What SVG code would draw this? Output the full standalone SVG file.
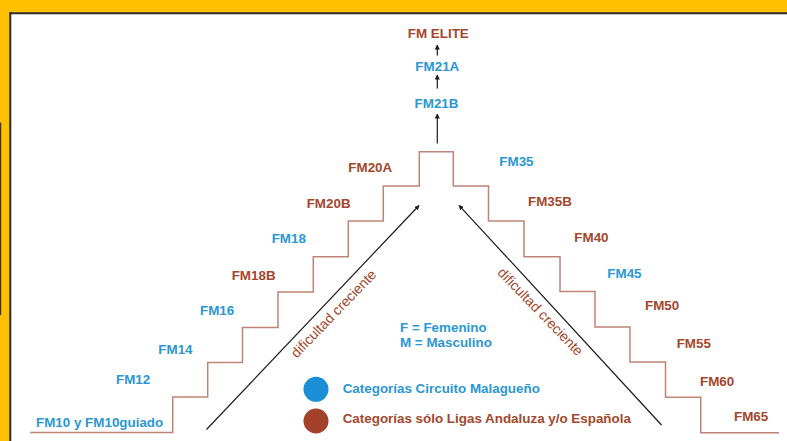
<svg xmlns="http://www.w3.org/2000/svg" width="787" height="441" viewBox="0 0 787 441">
  <style>
    .lbl { font-family: "Liberation Sans", Arial, sans-serif; font-weight: bold; font-size: 13.4px; }
    .blue { fill: #2B97D3; }
    .brown { fill: #A4472D; }
    .mid { text-anchor: middle; }
    .diag { font-family: "Liberation Sans", Arial, sans-serif; font-size: 14px; fill: #A4472D; text-anchor: middle; }
    .arr { stroke: #1a1a1a; stroke-width: 1.2; fill: none; marker-end: url(#ah); }
    .stairs { stroke: #BE8476; stroke-width: 1.5; fill: none; }
  </style>
  <defs>
    <marker id="ah" viewBox="0 0 10 10" refX="9" refY="5" markerWidth="5" markerHeight="5" orient="auto" markerUnits="userSpaceOnUse">
      <path d="M0,0 L10,5 L0,10 z" fill="#1a1a1a"/>
    </marker>
  </defs>

  <!-- frame -->
  <rect x="0" y="0" width="787" height="441" fill="#FFC000"/>
  <rect x="11" y="14" width="776" height="427" fill="#FFFFFF"/>
  <line x1="10" y1="13.2" x2="787" y2="13.2" stroke="#2b2b2b" stroke-width="2"/>
  <line x1="10.3" y1="12" x2="10.3" y2="441" stroke="#2b2b2b" stroke-width="2"/>
  <rect x="0" y="122.5" width="1.2" height="192.5" fill="#3a3520"/>

  <g id="connectors">
    <path class="stairs" d="M30,432.5 H172.7 V397 H207.7 V362.5 H242.5 V327.5 H278 V292 H313.3 V256.7 H348.3 V221 H383.3 V186 H419.3 V151.7 H453.3 V186 H488.5 V221 H524 V256.7 H560 V291.5 H595 V327 H630 V362 H665.5 V397.3 H700.7 V432.7 H779"/>
    <line class="arr" x1="437.3" y1="55.5" x2="437.3" y2="45"/>
    <line class="arr" x1="437.3" y1="88.5" x2="437.3" y2="75"/>
    <line class="arr" x1="437.3" y1="143.5" x2="437.3" y2="114"/>
    <line class="arr" x1="206.5" y1="429.5" x2="419" y2="205.5"/>
    <line class="arr" x1="661.5" y1="425" x2="459" y2="205.3"/>
  </g>

  <g id="n-fmelite"><text class="lbl brown mid" x="438.3" y="38.3">FM ELITE</text></g>
  <g id="n-fm21a"><text class="lbl blue mid" x="437.3" y="71">FM21A</text></g>
  <g id="n-fm21b"><text class="lbl blue mid" x="436.5" y="108.3">FM21B</text></g>

  <g id="n-fm20a"><text class="lbl brown" x="348.3" y="172.3">FM20A</text></g>
  <g id="n-fm20b"><text class="lbl brown" x="306.7" y="208.3">FM20B</text></g>
  <g id="n-fm18"><text class="lbl blue" x="271.7" y="243.3">FM18</text></g>
  <g id="n-fm18b"><text class="lbl brown" x="231.7" y="280">FM18B</text></g>
  <g id="n-fm16"><text class="lbl blue" x="200" y="315">FM16</text></g>
  <g id="n-fm14"><text class="lbl blue" x="158.3" y="353.7">FM14</text></g>
  <g id="n-fm12"><text class="lbl blue" x="116" y="384">FM12</text></g>
  <g id="n-fm10"><text class="lbl blue" x="36" y="427.3">FM10 y FM10guiado</text></g>

  <g id="n-fm35"><text class="lbl blue" x="499.3" y="166">FM35</text></g>
  <g id="n-fm35b"><text class="lbl brown" x="528" y="205.7">FM35B</text></g>
  <g id="n-fm40"><text class="lbl brown" x="574.3" y="241.7">FM40</text></g>
  <g id="n-fm45"><text class="lbl blue" x="607.3" y="277.7">FM45</text></g>
  <g id="n-fm50"><text class="lbl brown" x="645" y="310">FM50</text></g>
  <g id="n-fm55"><text class="lbl brown" x="676.7" y="348.3">FM55</text></g>
  <g id="n-fm60"><text class="lbl brown" x="700" y="385.7">FM60</text></g>
  <g id="n-fm65"><text class="lbl brown" x="734" y="420.7">FM65</text></g>

  <g id="diag-left"><text class="diag" transform="translate(337,317) rotate(-46)">dificultad creciente</text></g>
  <g id="diag-right"><text class="diag" transform="translate(537,315) rotate(46)">dificultad creciente</text></g>

  <g id="legend">
    <text class="lbl blue" x="400" y="331.7">F = Femenino</text>
    <text class="lbl blue" x="400" y="347.3">M = Masculino</text>
    <circle cx="316" cy="389.3" r="12.5" fill="#1B8ED6"/>
    <text class="lbl blue" x="342.7" y="393.3">Categorías Circuito Malagueño</text>
    <circle cx="316" cy="421" r="12.5" fill="#A3412A"/>
    <text class="lbl brown" x="342.7" y="423.3">Categorías sólo Ligas Andaluza y/o Española</text>
  </g>
</svg>
